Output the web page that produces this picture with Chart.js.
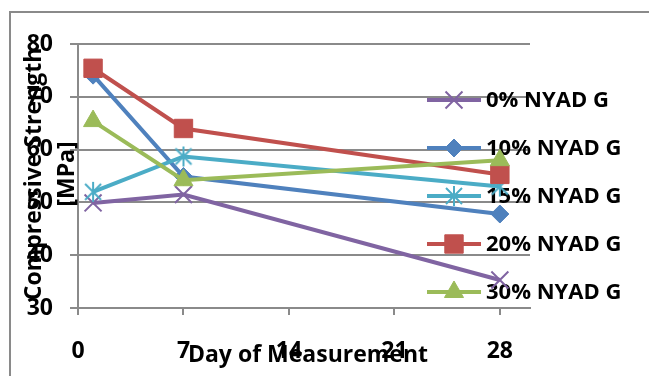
<!DOCTYPE html>
<html>
<head>
<meta charset="utf-8">
<script src="https://cdn.jsdelivr.net/npm/chart.js@4.4.1/dist/chart.umd.min.js"></script>
<style>
  body { margin: 0; background: #fff; }
</style>
</head>
<body>
<canvas id="strengthChart" width="649" height="376"></canvas>
<script>
// days of measurement
const days = [1, 7, 28];
const xTicks = [0, 7, 14, 21, 28];

// compressive strength [MPa] per mix
const seriesNames = ['0% NYAD G', '10% NYAD G', '15% NYAD G', '20% NYAD G', '30% NYAD G'];
const nyad0 = [49.9, 51.5, 35.3];
const nyad10 = [74.1, 54.9, 47.8];
const nyad15 = [52.0, 58.7, 53.0];
const nyad20 = [75.4, 64.0, 55.3];
const nyad30 = [65.4, 54.2, 58.0];

const colors = ['#8064A2', '#4F81BD', '#4BACC6', '#C0504D', '#9BBB59'];
const markerSize = [12, 9, 10, 13, 11];
const FONT = "'Open Sans', sans-serif";

// Excel style asterisk marker (no horizontal stroke)
function asterisk(color) {
    const c = document.createElement('canvas');
    c.width = 22;
    c.height = 22;
    const g = c.getContext('2d');
    g.strokeStyle = color;
    g.lineWidth = 2;
    g.beginPath();
    g.moveTo(11, 1); g.lineTo(11, 21);
    g.moveTo(3, 3); g.lineTo(19, 19);
    g.moveTo(19, 3); g.lineTo(3, 19);
    g.stroke();
    return c;
}

const markers = ['crossRot', 'rectRot', asterisk(colors[2]), 'rect', 'triangle'];

function toPoints(vals) {
    return vals.map((v, i) => ({ x: days[i], y: v }));
}

const allSeries = [nyad0, nyad10, nyad15, nyad20, nyad30];
const datasets = allSeries.map((vals, i) => ({
    label: seriesNames[i],
    data: toPoints(vals),
    showLine: true,
    borderColor: colors[i],
    backgroundColor: colors[i],
    borderWidth: 4,
    pointStyle: markers[i],
    pointRadius: markerSize[i],
    pointBorderColor: colors[i],
    pointBackgroundColor: colors[i],
    pointBorderWidth: i === 0 ? 2 : 1,
    order: 5 - i // later series on top, like the original
}));

// border, titles and legend drawn by hand so they can overlap like the original
const decorations = {
    id: 'decorations',
    beforeDraw(chart) {
        const ctx = chart.ctx;
        ctx.save();
        ctx.fillStyle = '#fff';
        ctx.fillRect(0, 0, chart.width, chart.height);
        ctx.strokeStyle = '#8a8a8a';
        ctx.lineWidth = 2;
        ctx.strokeRect(10, 12, 800, 600);
        ctx.restore();
    },
    beforeDatasetsDraw(chart) {
        const ctx = chart.ctx;
        ctx.save();
        // legend
        ctx.font = 'bold 22px ' + FONT;
        ctx.textBaseline = 'middle';
        ctx.textAlign = 'left';
        chart.data.datasets.forEach((ds, i) => {
            const y = 100 + i * 48;
            ctx.strokeStyle = ds.borderColor;
            ctx.lineWidth = 4;
            ctx.beginPath();
            ctx.moveTo(427, y);
            ctx.lineTo(481, y);
            ctx.stroke();
            ctx.fillStyle = ds.pointBackgroundColor;
            ctx.strokeStyle = ds.pointBorderColor;
            ctx.lineWidth = ds.pointBorderWidth;
            Chart.helpers.drawPoint(ctx, {
                pointStyle: ds.pointStyle,
                radius: ds.pointRadius,
                borderWidth: ds.pointBorderWidth,
                rotation: 0
            }, 454, y);
            ctx.fillStyle = '#000';
            ctx.fillText(ds.label, 486, y + 1);
        });
        // axis titles
        ctx.font = 'bold 23px ' + FONT;
        ctx.fillStyle = '#000';
        ctx.textAlign = 'center';
        ctx.textBaseline = 'alphabetic';
        ctx.fillText('Day of Measurement', 308, 362);
        const lines = ['Compressive Strength', '[MPa]'];
        const baseX = [41, 74];
        lines.forEach((t, i) => {
            ctx.save();
            ctx.translate(baseX[i], 174);
            ctx.rotate(-Math.PI / 2);
            ctx.fillText(t, 0, 0);
            ctx.restore();
        });
        ctx.restore();
    }
};

new Chart(document.getElementById('strengthChart').getContext('2d'), {
    type: 'scatter',
    data: { datasets: datasets },
    options: {
        responsive: false,
        animation: false,
        layout: { padding: { left: 0, top: 44, right: 119, bottom: 0 } },
        plugins: {
            legend: { display: false },
            tooltip: { enabled: false }
        },
        scales: {
            x: {
                type: 'linear',
                min: 0,
                max: 30,
                afterBuildTicks: (axis) => {
                    axis.ticks = xTicks.map(v => ({ value: v }));
                },
                afterFit: (axis) => { axis.height = 68; },
                ticks: {
                    color: '#000',
                    font: { family: FONT, size: 23, weight: 'bold' },
                    padding: 23,
                    maxRotation: 0
                },
                grid: {
                    drawOnChartArea: false,
                    drawTicks: true,
                    tickLength: 7,
                    color: '#8a8a8a',
                    lineWidth: 2
                },
                border: { color: '#8a8a8a', width: 2 }
            },
            y: {
                min: 30,
                max: 80,
                afterFit: (axis) => { axis.width = 78; },
                ticks: {
                    stepSize: 10,
                    color: '#000',
                    font: { family: FONT, size: 23, weight: 'bold' },
                    padding: 17
                },
                grid: {
                    color: '#8a8a8a',
                    lineWidth: 2,
                    tickLength: 8
                },
                border: { color: '#8a8a8a', width: 2 }
            }
        }
    },
    plugins: [decorations]
});
</script>
</body>
</html>
